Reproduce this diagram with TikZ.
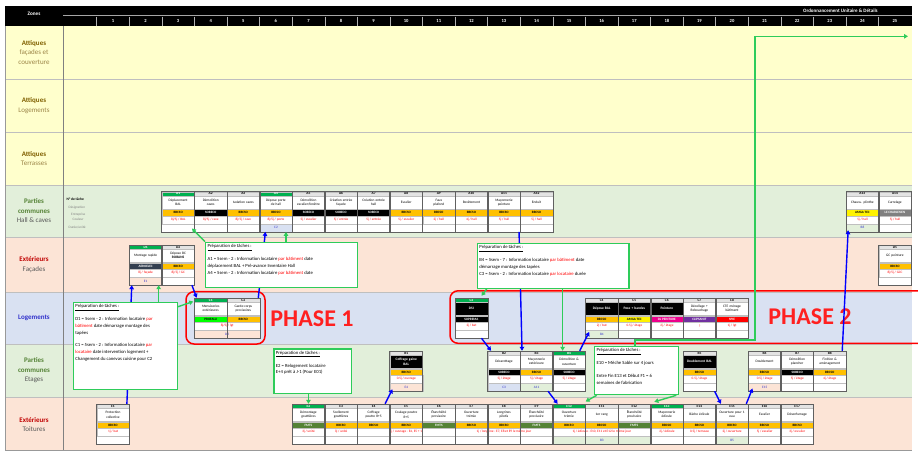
\documentclass[tikz,border=0pt]{standalone}
\usepackage{fontspec}
\setmainfont{Carlito}
\usetikzlibrary{arrows.meta,calc}

\definecolor{fondjaune}{HTML}{FFFFCC}
\definecolor{fondvert}{HTML}{E2EFDA}
\definecolor{fondsaumon}{HTML}{FCE4D6}
\definecolor{fondbleu}{HTML}{D9E1F2}
\definecolor{grille}{HTML}{BFBFBF}
\definecolor{vertfl}{HTML}{00B050}
\definecolor{vertfmts}{HTML}{548235}
\definecolor{orbbc}{HTML}{FFC000}
\definecolor{ardoise}{HTML}{333F50}
\definecolor{violetcie}{HTML}{7030A0}
\definecolor{vertfleche}{HTML}{2ECC5A}
\definecolor{bleufleche}{HTML}{0000FF}
\definecolor{bleutxt}{HTML}{3333CC}
\definecolor{ocre}{HTML}{806000}
\definecolor{ocregris}{HTML}{9C8547}
\definecolor{vertzone}{HTML}{548235}
\definecolor{rougezone}{HTML}{C00000}
\definecolor{grisfonce}{HTML}{595959}
\definecolor{rougephase}{HTML}{FF2020}

\pgfdeclarelayer{dessus}
\pgfsetlayers{main,dessus}

\newcommand{\colx}[1]{96.7+(#1-1)*32.58}
\newcommand{\ftete}{\fontsize{3.6}{3.8}\selectfont\bfseries}
\newcommand{\fdesc}{\fontsize{3.5}{4.1}\selectfont}
\newcommand{\fcie}{\fontsize{3.3}{3.6}\selectfont\bfseries}
\newcommand{\fduree}{\fontsize{3.4}{3.8}\selectfont}
\newcommand{\fprep}{\fontsize{4.7}{6.8}\selectfont}

\tikzset{
  carte/.style={fill=white, minimum width=32.58pt, minimum height=40pt, inner sep=0pt},
  tete/.style={draw=grille, line width=0.2pt, minimum width=32.58pt, minimum height=4pt, inner sep=0pt, font=\ftete},
  tetev/.style={tete, fill=vertfl, text=white},
  teteg/.style={tete, fill=gray!22},
  desc/.style={draw=grille, line width=0.2pt, fill=white, minimum width=32.58pt, minimum height=13.3pt, text width=31pt, align=center, inner sep=0pt, font=\fdesc},
  descn/.style={desc, fill=black, text=white, font=\fdesc\bfseries},
  cie/.style={draw=grille, line width=0.2pt, minimum width=32.58pt, minimum height=6.7pt, inner sep=0pt, font=\fcie},
  cbbc/.style={cie, fill=orbbc},
  csob/.style={cie, fill=black, text=white},
  cfmts/.style={cie, fill=vertfmts, text=white},
  cprof/.style={cie, fill=green},
  camga/.style={cie, fill=yellow},
  cdl/.style={cie, fill=magenta, text=white},
  cclip/.style={cie, fill=violetcie, text=white},
  cspie/.style={cie, fill=red, text=white},
  caero/.style={cie, fill=ardoise, text=white},
  cchar/.style={cie, fill=gray, text=white},
  duree/.style={draw=grille, line width=0.2pt, fill=white, minimum height=8pt, inner sep=0pt, font=\fduree, text=red},
  suite/.style={draw=grille, line width=0.2pt, minimum height=8pt, inner sep=0pt, font=\fduree, text=bleutxt},
  contour/.style={draw=gray!75!black, line width=0.5pt},
  prep/.style={draw=vertfleche, line width=1.3pt, fill=white, inner sep=2pt, anchor=north west, font=\fprep},
  fbleue/.style={draw=bleufleche, line width=1.4pt, -{Triangle[length=4pt,width=4.5pt]}},
  fverte/.style={draw=vertfleche, line width=1.4pt, -{Triangle[length=4pt,width=4.5pt]}},
  phase/.style={draw=red, line width=1.5pt, rounded corners=8pt},
  zone/.style={align=center, font=\fontsize{7}{9.5}\selectfont, inner sep=0pt},
  legende/.style={anchor=west, font=\fontsize{3.4}{4}\selectfont, text=gray},
}

% carte de tache : nom, colonne, haut, code, tete, designation, style designation, style entreprise, entreprise
\newcommand{\tache}[9]{%
  \node[carte] (#1) at ({\colx{#2}+16.29},{#3+20}) {};
  \node[#5,anchor=north] (#1h) at (#1.north) {#4};
  \node[#7,anchor=north] (#1d) at (#1h.south) {#6};
  \node[#8,anchor=north] (#1c) at (#1d.south) {#9};
}
% duree : nom, col debut, col fin, haut, texte
\newcommand{\duree}[5]{%
  \pgfmathsetmacro{\largeur}{(#3-#2+1)*32.58}
  \node[duree,minimum width=\largeur pt,anchor=north west] (#1) at ({\colx{#2}},{#4+24}) {#5};
}
% ligne suivante : nom, col debut, col fin, haut, couleur, texte
\newcommand{\suite}[6]{%
  \pgfmathsetmacro{\largeur}{(#3-#2+1)*32.58}
  \node[suite,fill=#5,minimum width=\largeur pt,anchor=north west] (#1) at ({\colx{#2}},{#4+32}) {#6};
}

\begin{document}
\begin{tikzpicture}[x=1pt,y=-1pt]
\tikzstyle{every node}+=[inner sep=0pt]
\useasboundingbox (0,0) rectangle (918,458);
\fill[white] (0,0) rectangle (918,458);

% fonds des zones
\fill[fondjaune] (5,26) rectangle (912,185);
\fill[fondvert] (5,185) rectangle (912,237);
\fill[fondsaumon] (5,237) rectangle (912,292);
\fill[fondbleu] (5,292) rectangle (912,344);
\fill[fondvert] (5,344) rectangle (912,397);
\fill[fondsaumon] (5,397) rectangle (912,450.7);
\foreach \y in {79,132,185,237,292,344,397}
  \draw[grille, line width=0.9pt] (5,\y) -- (912,\y);
\draw[gray, line width=0.6pt] (63,26) -- (63,450.7);
\draw[gray!80, line width=0.8pt] (5,26) -- (5,450.7) -- (912,450.7);

% en-tete
\fill[black] (5,6) rectangle (912,26);
\draw[gray!70, line width=0.8pt] (63,15.5) -- (912,15.5);
\node[text=white, font=\fontsize{5.2}{6}\selectfont\bfseries] (zones) at (34,14) {Zones};
\begin{scope}
  \clip (5,6) rectangle (912,26);
  \node[anchor=west, text=white, font=\fontsize{5}{6}\selectfont\bfseries] (titre) at (803,10.5) {Ordonnancement Unitaire \& Détails};
\end{scope}
\foreach \n in {1,...,25} {
  \draw[gray!60, line width=0.5pt] ({\colx{\n}},16.5) -- ({\colx{\n}},26);
  \node[text=white, font=\fontsize{4.6}{5}\selectfont\bfseries] (n\n) at ({\colx{\n}+16.29},21) {\n};
}

% libelles des zones
\node[zone, text=ocre] (z1) at (34,52.5) {\textbf{Attiques}\\\textcolor{ocregris}{façades et}\\\textcolor{ocregris}{couverture}};
\node[zone, text=ocre] (z2) at (34,105.5) {\textbf{Attiques}\\\textcolor{ocregris}{Logements}};
\node[zone, text=ocre] (z3) at (34,158.5) {\textbf{Attiques}\\\textcolor{ocregris}{Terrasses}};
\node[zone, text=vertzone] (z4) at (34,211) {\textbf{Parties}\\\textbf{communes}\\\textcolor{grisfonce}{Hall \& caves}};
\node[zone, text=rougezone] (z5) at (34,264.5) {\textbf{Extérieurs}\\\textcolor{grisfonce}{Façades}};
\node[zone, text=bleutxt] (z6) at (34,318) {\textbf{Logements}};
\node[zone, text=vertzone] (z7) at (34,370.5) {\textbf{Parties}\\\textbf{communes}\\\textcolor{grisfonce}{Etages}};
\node[zone, text=rougezone] (z8) at (34,424.5) {\textbf{Extérieurs}\\\textcolor{grisfonce}{Toitures}};

% legende d'une carte
\node[legende, text=black, font=\fontsize{3.6}{4}\selectfont\bfseries] (leg1) at (66.5,199.3) {N° de tâche};
\node[legende] (leg2) at (68.5,207.7) {Désignation};
\node[legende] (leg3) at (71,214.3) {Entreprise};
\node[legende] (leg4) at (72.5,219.3) {Couleur};
\node[legende] (leg5) at (68.5,227.7) {Durée/unité};

% phases
\draw[phase] (186,291.7) rectangle (265,344);
\begin{scope}
  \clip (0,0) rectangle (918,458);
  \draw[phase] (450,290.8) rectangle (930,343.3);
\end{scope}
\node[font=\fontsize{24}{24}\selectfont\bfseries, text=rougephase] (ph1) at (312,318.5) {PHASE 1};
\node[font=\fontsize{24}{24}\selectfont\bfseries, text=rougephase] (ph2) at (810,316.5) {PHASE 2};

% Parties communes hall & caves
\tache{A1}{3}{191.7}{A1}{tetev}{Déplacement\\BAL}{desc}{cbbc}{BBCSO}
\tache{A2}{4}{191.7}{A2}{teteg}{Démolition\\caves}{desc}{csob}{SOBECO}
\tache{A3}{5}{191.7}{A3}{teteg}{Isolation caves}{desc}{cbbc}{BBCSO}
\tache{A4}{6}{191.7}{A4}{tetev}{Dépose porte\\de hall}{desc}{cbbc}{BBCSO}
\tache{A5}{7}{191.7}{A5}{teteg}{Démolition\\escalier/fenêtre}{desc}{csob}{SOBECO}
\tache{A6}{8}{191.7}{A6}{teteg}{Création entrée\\façade}{desc}{csob}{SOBECO}
\tache{A7}{9}{191.7}{A7}{teteg}{Création entrée\\hall}{desc}{csob}{SOBECO}
\tache{A8}{10}{191.7}{A8}{teteg}{Escalier}{desc}{cbbc}{BBCSO}
\tache{A9}{11}{191.7}{A9}{teteg}{Faux\\plafond}{desc}{cbbc}{BBCSO}
\tache{A10}{12}{191.7}{A10}{teteg}{Revêtement}{desc}{cbbc}{BBCSO}
\tache{A11}{13}{191.7}{A11}{teteg}{Maçonnerie\\peinture}{desc}{cbbc}{BBCSO}
\tache{A12}{14}{191.7}{A12}{teteg}{Enduit}{desc}{cbbc}{BBCSO}
\tache{A13}{24}{191.7}{A13}{teteg}{Chauss. plinthe}{desc}{camga}{AMGA TEC}
\tache{A14}{25}{191.7}{A14}{teteg}{Carrelage}{desc}{cchar}{LE CHARLESIEN}
\duree{A1t}{3}{3}{191.7}{8j/5j / BAL}
\duree{A2t}{4}{4}{191.7}{8j/5j / cave}
\duree{A3t}{5}{5}{191.7}{8j/5j / cave}
\duree{A4t}{6}{6}{191.7}{8j/5j / porte}
\duree{A5t}{7}{7}{191.7}{5j / escalier}
\duree{A6t}{8}{8}{191.7}{5j / entrée}
\duree{A7t}{9}{9}{191.7}{5j / entrée}
\duree{A8t}{10}{10}{191.7}{5j / escalier}
\duree{A9t}{11}{11}{191.7}{2j / hall}
\duree{A10t}{12}{12}{191.7}{4j / hall}
\duree{A11t}{13}{13}{191.7}{5j / hall}
\duree{A12t}{14}{14}{191.7}{5j / hall}
\duree{A13t}{24}{24}{191.7}{5j / hall}
\duree{A14t}{25}{25}{191.7}{5j / hall}
\suite{A4x}{6}{6}{191.7}{fondbleu}{C2}
\suite{A13x}{24}{24}{191.7}{fondvert}{B8}

% Exterieurs facades
\tache{D1}{2}{245}{D1}{tetev}{Montage rapide}{desc}{caero}{AEROELEC}
\tache{D2}{3}{245}{D2}{teteg}{Dépose BC\\\textbf{ROBANS}}{desc}{cbbc}{BBCSO}
\tache{D5}{25}{245}{D5}{teteg}{GC peinture}{desc}{cbbc}{BBCSO}
\duree{D1t}{2}{2}{245}{8j / façade}
\duree{D2t}{3}{3}{245}{8j/5j / GC}
\duree{D5t}{25}{25}{245}{8j/5j / GCC}
\suite{D1x}{2}{2}{245}{fondsaumon}{E1}

% Logements
\tache{C1}{4}{298}{C1}{tetev}{Menuiseries\\extérieures}{desc}{cprof}{PROFALU}
\tache{C2}{5}{298}{C2}{teteg}{Garde-corps\\provisoires}{desc}{cbbc}{BBCSO}
\duree{C1t}{4}{5}{298}{8j/5j / lgt}
\suite{C1x}{4}{5}{298}{fondsaumon}{D2}
\tache{C3}{12}{298}{C3}{tetev}{DSI}{descn}{csob}{SOPREMA}
\tache{C4}{16}{298}{C4}{teteg}{Dépose BAL}{descn}{cbbc}{BBCSO}
\tache{C5}{17}{298}{C5}{teteg}{Pose + bandes}{descn}{camga}{AMGA TEC}
\tache{C6}{18}{298}{C6}{teteg}{Peinture}{descn}{cdl}{DL PEINTURE}
\tache{C7}{19}{298}{C7}{teteg}{Décollage +\\Rebouchage}{desc}{cclip}{CLIPSANIT}
\tache{C8}{20}{298}{C8}{teteg}{CTE ménage\\bâtiment}{desc}{cspie}{SPIE}
\duree{C3t}{12}{12}{298}{2j / bat}
\duree{C4t}{16}{16}{298}{2j / bat}
\duree{C5t}{17}{17}{298}{0.5j / étage}
\duree{C6t}{18}{18}{298}{2j / étage}
\duree{C7t}{19}{19}{298}{?}
\duree{C8t}{20}{20}{298}{1j / lgt}
\suite{C4x}{16}{16}{298}{fondvert}{B4}

% Parties communes etages
\tache{B1}{10}{351}{B1}{teteg}{Coffrage gaine\\BAL}{descn}{cbbc}{BBCSO}
\tache{B2}{13}{351}{B2}{teteg}{Décarottage}{desc}{csob}{SOBECO}
\tache{B3}{14}{351}{B3}{teteg}{Maçonnerie\\extérieure}{desc}{cbbc}{BBCSO}
\tache{B4}{15}{351}{B4}{tetev}{Démolition \&\\ouverture}{desc}{csob}{SOBECO}
\tache{B5}{19}{351}{B5}{teteg}{Doublement BAL}{descn}{cbbc}{BBCSO}
\tache{B6}{21}{351}{B6}{teteg}{Doublement}{desc}{cbbc}{BBCSO}
\tache{B7}{22}{351}{B7}{teteg}{Démolition\\plancher}{desc}{csob}{SOBECO}
\tache{B8}{23}{351}{B8}{teteg}{Finition \&\\aménagement}{desc}{cbbc}{BBCSO}
\duree{B1t}{10}{10}{351}{0.5j / ouvrage}
\duree{B2t}{13}{13}{351}{5j / étage}
\duree{B3t}{14}{14}{351}{5j / étage}
\duree{B4t}{15}{15}{351}{5j / étage}
\duree{B5t}{19}{19}{351}{0.5j / étage}
\duree{B6t}{21}{21}{351}{0.5j / étage}
\duree{B7t}{22}{22}{351}{5j / étage}
\duree{B8t}{23}{23}{351}{4j / étage}
\suite{B1x}{10}{10}{351}{fondsaumon}{E4}
\suite{B2x}{13}{13}{351}{fondbleu}{C3}
\suite{B3x}{14}{14}{351}{fondvert}{A11}
\suite{B6x}{21}{21}{351}{fondsaumon}{E15}

% Exterieurs toitures
\tache{E1}{1}{404}{E1}{teteg}{Protection\\collective}{desc}{cbbc}{BBCSO}
\tache{E2}{7}{404}{E2}{tetev}{Démontage\\gouttières}{desc}{cfmts}{FMTS}
\tache{E3}{8}{404}{E3}{teteg}{Scellement\\gouttières}{desc}{cbbc}{BBCSO}
\tache{E4}{9}{404}{E4}{teteg}{Coffrage\\poutre R+5}{desc}{cbbc}{BBCSO}
\tache{E5}{10}{404}{E5}{teteg}{Coulage poutre\\R+5}{desc}{cbbc}{BBCSO}
\tache{E6}{11}{404}{E6}{teteg}{Étanchéité\\provisoire}{desc}{cfmts}{FMTS}
\tache{E7}{12}{404}{E7}{teteg}{Ouverture\\trémie}{desc}{cbbc}{BBCSO}
\tache{E8}{13}{404}{E8}{teteg}{Longrines\\pilotis}{desc}{cbbc}{BBCSO}
\tache{E9}{14}{404}{E9}{teteg}{Étanchéité\\provisoire}{desc}{cfmts}{FMTS}
\tache{E10}{15}{404}{E10}{tetev}{Ouverture\\trémie}{desc}{cbbc}{BBCSO}
\tache{E11}{16}{404}{E11}{teteg}{1er rang}{desc}{cbbc}{BBCSO}
\tache{E12}{17}{404}{E12}{teteg}{Étanchéité\\provisoire}{desc}{cfmts}{FMTS}
\tache{E13}{18}{404}{E13}{tetev}{Maçonnerie\\édicule}{desc}{cbbc}{BBCSO}
\tache{E14}{19}{404}{E14}{teteg}{Bâche édicule}{desc}{cbbc}{BBCSO}
\tache{E15}{20}{404}{E15}{teteg}{Ouverture pour 1\\eau}{desc}{cbbc}{BBCSO}
\tache{E16}{21}{404}{E16}{teteg}{Escalier}{desc}{cbbc}{BBCSO}
\tache{E17}{22}{404}{E17}{teteg}{Désenfumage}{desc}{cbbc}{BBCSO}
\duree{E1t}{1}{1}{404}{1j / bat}
\duree{E2t}{7}{7}{404}{3j / unité}
\duree{E3t}{8}{8}{404}{3j / unité}
\duree{E4t}{9}{11}{404}{5j / ouvrage - E4, E5 + 1j}
\duree{E7t}{12}{14}{404}{1j / longrine - E7, E8 et E9 le même jour}
\duree{E10t}{15}{17}{404}{1j / édicule - E10, E11 et E12 le même jour}
\duree{E13t}{18}{18}{404}{2j / édicule}
\duree{E14t}{19}{19}{404}{0.5j / terrasse}
\duree{E15t}{20}{20}{404}{2j / ouverture}
\duree{E16t}{21}{21}{404}{5j / escalier}
\duree{E17t}{22}{22}{404}{3j / escalier}
\suite{E10x}{15}{17}{404}{fondvert}{B3}
\suite{E15x}{20}{20}{404}{fondvert}{B5}

% contours des cartes
\foreach \c in {A1,A2,A3,A4,A5,A6,A7,A8,A9,A10,A11,A12,A13,A14,D1,D2,D5,C1,C2,C3,C4,C5,C6,C7,C8,B1,B2,B3,B4,B5,B6,B7,B8,E1,E2,E3,E4,E5,E6,E7,E8,E9,E10,E11,E12,E13,E14,E15,E16,E17}
  \draw[contour] (\c.north west) rectangle (\c.south east);

% preparations de taches
\begin{pgfonlayer}{dessus}
\node[prep] (P1) at (205,241.7) {\parbox[c][41pt][t]{148pt}{\raggedright
  \underline{Préparation de tâches :}\\[6pt]
  A1 = 5sem - 2 : Information locataire \textcolor{red}{par bâtiment} date\\
  déplacement BAL + Pré-avance Inventaire Hall\\
  A4 = 5sem - 2 : Information locataire \textcolor{red}{par bâtiment} date}};
\node[prep] (P2) at (476.7,242.7) {\parbox[c][41pt][t]{147.6pt}{\raggedright
  \underline{Préparation de tâches :}\\[6pt]
  B4 = 5sem - 7 : Information locataire \textcolor{red}{par bâtiment} date\\
  démarrage montage des tapées\\
  C3 = 5sem - 2 : Information locataire \textcolor{red}{par locataire} durée}};
\node[prep] (P3) at (72.7,301.7) {\parbox[c][83.3pt][t]{100pt}{\raggedright
  \underline{Préparation de tâches :}\\[6pt]
  D1 = 5sem - 2 : Information locataire \textcolor{red}{par}\\
  \textcolor{red}{bâtiment} date démarrage montage des\\
  tapées\\[6pt]
  C1 = 5sem - 2 : Information locataire \textcolor{red}{par}\\
  \textcolor{red}{locataire} date intervention logement +\\
  Changement du canevas cuisine pour C2}};
\node[prep] (P4) at (273.3,348.3) {\parbox[c][40.4pt][t]{73.4pt}{\raggedright
  \underline{Préparation de tâches :}\\[6pt]
  E2 = Relogement locataire\\
  E+4 prêt à J-1 (Pour E01)}};
\node[prep] (P5) at (594,345.7) {\parbox[c][44.3pt][t]{79.7pt}{\raggedright
  \underline{Préparation de tâches :}\\[6pt]
  E10 = Mèche Sable sur 4 jours\\[6pt]
  Entre Fin E13 et Début F1 = 6\\
  semaines de fabrication}};
\end{pgfonlayer}

% liens bleus entre taches
\draw[fbleue] ([xshift=-1.5pt]C2.north east) -- ([xshift=6pt]A4.south west);
\draw[fbleue] ([xshift=-2.6pt]E1.north east) -- ([xshift=2.7pt]D1.south west);
\draw[fbleue] ([xshift=-2.7pt]D2.south east) -- ([xshift=2.4pt]C1.north west);
\draw[fbleue] ([xshift=-1.4pt]A11.south east) -- ([xshift=2pt]B3.north west);
\draw[fbleue] ([xshift=-6.4pt]C3.south east) -- ([xshift=3.6pt]B2.north west);
\draw[fbleue] ([xshift=-5.9pt]B4.north east) -- ([xshift=4pt,yshift=6.3pt]C4.south west);
\draw[fbleue] ([xshift=-5pt]B3.south east) -- ([xshift=5pt]E10.north west);
\draw[fbleue] ([xshift=-1.3pt]B5.south east) -- ([xshift=5.4pt]E15.north west);
\draw[fbleue] ([xshift=-2.2pt]E15.north east) -- ([xshift=4.4pt,yshift=2.7pt]B6.south west);
\draw[fbleue] ([xshift=-4pt]B8.north east) -- ([xshift=2.3pt,yshift=1.7pt]A13.south west);
\draw[fbleue] ([xshift=-5pt]E4.north east) -- ([xshift=2.7pt,yshift=2pt]B1.south west);

% liens verts depuis les preparations
\coordinate (a4g) at ([xshift=-6.4pt]A4.south east);
\coordinate (d1g) at ([xshift=-3.4pt]D1.south east);
\coordinate (b4g) at ([xshift=10pt]B4.north west);
\coordinate (coude) at (755,340);
\coordinate (fin) at (908,36.3);
\draw[fverte] (P1.north west) -- ([xshift=-2.7pt,yshift=3.4pt]A1.south east);
\draw[fverte] (P1.north -| a4g) -- (a4g);
\draw[fverte] (P3.north -| d1g) -- (d1g);
\draw[fverte] ([yshift=-5pt]P3.north east) -- ([xshift=-1pt,yshift=-3.7pt]C1.north west);
\draw[fverte] ([xshift=10pt]P2.south west) -- ([xshift=-6.4pt,yshift=2pt]C3.north east);
\draw[fverte] (P2.south -| b4g) -- (b4g);
\draw[fverte] (E2.north |- P4.south) -- (E2.north);
\draw[fverte] ([xshift=2.7pt]P5.south west) -- ([yshift=2.3pt]E10.north east);
\draw[fverte] ([xshift=-2.7pt]P5.south east) -- ([xshift=4pt,yshift=2pt]E13.north west);
\draw[fverte] ([xshift=41pt]P5.north west) |- (coude) |- (fin);
\end{tikzpicture}
\end{document}
